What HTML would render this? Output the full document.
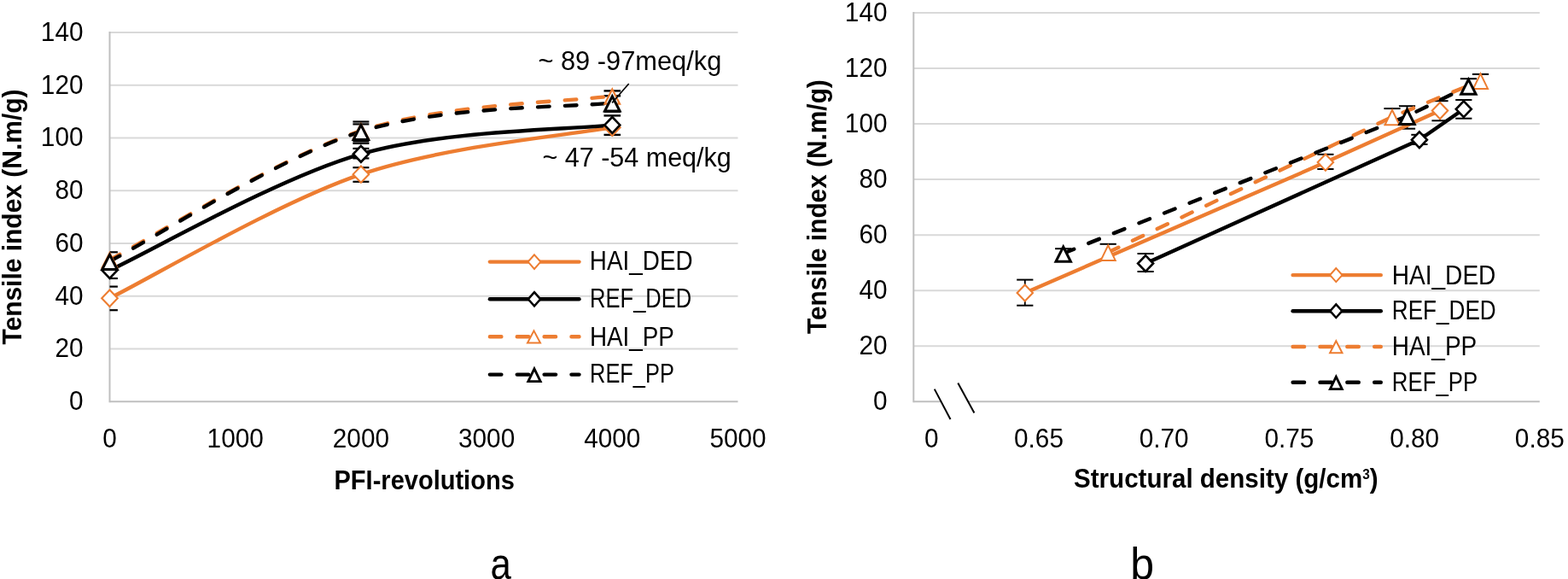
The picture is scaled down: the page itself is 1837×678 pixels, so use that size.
<!DOCTYPE html><html><head><meta charset="utf-8"><title>Tensile index charts</title><style>html,body{margin:0;padding:0;background:#fff;}svg{display:block;}text{font-family:'Liberation Sans', Arial, sans-serif;fill:#000;}</style></head><body>
<svg width="1837" height="678" viewBox="0 0 1837 678">
<rect width="1837" height="678" fill="#fff"/>
<line x1="128.5" y1="408.54" x2="864.5" y2="408.54" stroke="#D9D9D9" stroke-width="2"/>
<line x1="128.5" y1="346.79" x2="864.5" y2="346.79" stroke="#D9D9D9" stroke-width="2"/>
<line x1="128.5" y1="285.03" x2="864.5" y2="285.03" stroke="#D9D9D9" stroke-width="2"/>
<line x1="128.5" y1="223.27" x2="864.5" y2="223.27" stroke="#D9D9D9" stroke-width="2"/>
<line x1="128.5" y1="161.51" x2="864.5" y2="161.51" stroke="#D9D9D9" stroke-width="2"/>
<line x1="128.5" y1="99.76" x2="864.5" y2="99.76" stroke="#D9D9D9" stroke-width="2"/>
<line x1="128.5" y1="38.00" x2="864.5" y2="38.00" stroke="#D9D9D9" stroke-width="2"/>
<line x1="128.5" y1="470.3" x2="864.5" y2="470.3" stroke="#BFBFBF" stroke-width="2"/>
<line x1="128.5" y1="37.0" x2="128.5" y2="471.3" stroke="#BFBFBF" stroke-width="2"/>
<text transform="translate(97.5,480.2) scale(0.96,1)" text-anchor="end" font-size="31" font-weight="normal">0</text>
<text transform="translate(97.5,418.4) scale(0.96,1)" text-anchor="end" font-size="31" font-weight="normal">20</text>
<text transform="translate(97.5,356.7) scale(0.96,1)" text-anchor="end" font-size="31" font-weight="normal">40</text>
<text transform="translate(97.5,294.9) scale(0.96,1)" text-anchor="end" font-size="31" font-weight="normal">60</text>
<text transform="translate(97.5,233.2) scale(0.96,1)" text-anchor="end" font-size="31" font-weight="normal">80</text>
<text transform="translate(97.5,171.4) scale(0.96,1)" text-anchor="end" font-size="31" font-weight="normal">100</text>
<text transform="translate(97.5,109.7) scale(0.96,1)" text-anchor="end" font-size="31" font-weight="normal">120</text>
<text transform="translate(97.5,47.9) scale(0.96,1)" text-anchor="end" font-size="31" font-weight="normal">140</text>
<text transform="translate(128.5,523.9) scale(0.96,1)" text-anchor="middle" font-size="31" font-weight="normal">0</text>
<text transform="translate(275.7,523.9) scale(0.96,1)" text-anchor="middle" font-size="31" font-weight="normal">1000</text>
<text transform="translate(422.9,523.9) scale(0.96,1)" text-anchor="middle" font-size="31" font-weight="normal">2000</text>
<text transform="translate(570.1,523.9) scale(0.96,1)" text-anchor="middle" font-size="31" font-weight="normal">3000</text>
<text transform="translate(717.3,523.9) scale(0.96,1)" text-anchor="middle" font-size="31" font-weight="normal">4000</text>
<text transform="translate(864.5,523.9) scale(0.96,1)" text-anchor="middle" font-size="31" font-weight="normal">5000</text>
<text id="t_pfi" transform="translate(391.50,573.1) scale(0.9430,1)" font-size="30.8" font-weight="bold">PFI-revolutions</text>
<text id="t_ya" transform="translate(25,403.59) rotate(-90) scale(0.9732,1)" font-size="30.8" font-weight="bold">Tensile index (N.m/g)</text>
<line x1="128.50" y1="295.30" x2="137.90" y2="295.30" stroke="#000000" stroke-width="2.2"/>
<line x1="128.50" y1="326.00" x2="137.90" y2="326.00" stroke="#000000" stroke-width="2.2"/>
<line x1="128.50" y1="335.60" x2="137.90" y2="335.60" stroke="#000000" stroke-width="2.2"/>
<line x1="128.50" y1="363.20" x2="137.90" y2="363.20" stroke="#000000" stroke-width="2.2"/>
<line x1="413.40" y1="142.50" x2="432.40" y2="142.50" stroke="#000000" stroke-width="2.2"/>
<line x1="413.40" y1="145.40" x2="432.40" y2="145.40" stroke="#000000" stroke-width="2.2"/>
<line x1="413.40" y1="165.50" x2="432.40" y2="165.50" stroke="#000000" stroke-width="2.2"/>
<line x1="413.40" y1="167.90" x2="432.40" y2="167.90" stroke="#000000" stroke-width="2.2"/>
<line x1="413.40" y1="173.90" x2="432.40" y2="173.90" stroke="#000000" stroke-width="2.2"/>
<line x1="413.40" y1="185.40" x2="432.40" y2="185.40" stroke="#000000" stroke-width="2.2"/>
<line x1="413.40" y1="196.20" x2="432.40" y2="196.20" stroke="#000000" stroke-width="2.2"/>
<line x1="413.40" y1="212.80" x2="432.40" y2="212.80" stroke="#000000" stroke-width="2.2"/>
<line x1="707.50" y1="106.40" x2="727.10" y2="106.40" stroke="#000000" stroke-width="2.4"/>
<line x1="707.50" y1="112.30" x2="727.10" y2="112.30" stroke="#000000" stroke-width="2.4"/>
<line x1="707.50" y1="130.70" x2="727.10" y2="130.70" stroke="#000000" stroke-width="2.4"/>
<line x1="707.50" y1="135.40" x2="727.10" y2="135.40" stroke="#000000" stroke-width="2.4"/>
<line x1="707.50" y1="157.90" x2="727.10" y2="157.90" stroke="#000000" stroke-width="2.4"/>
<path d="M128.50,349.26 C177.57,325.07 324.77,237.48 422.90,204.13 C521.03,170.78 668.23,158.32 717.30,149.16" fill="none" stroke="#ED7D31" stroke-width="4.4" stroke-linecap="round"/>
<path d="M128.50,316.52 C177.57,293.83 324.77,208.71 422.90,180.35 C521.03,151.99 668.23,152.04 717.30,146.38" fill="none" stroke="#000000" stroke-width="4.4" stroke-linecap="round"/>
<path d="M128.50,304.17 C177.57,279.01 324.77,185.14 422.90,153.18 C521.03,121.22 668.23,119.21 717.30,112.42" fill="none" stroke="#ED7D31" stroke-width="4.4" stroke-dasharray="13.5 18.35" stroke-linecap="round"/>
<path d="M128.50,306.03 C177.57,280.71 324.77,185.03 422.90,154.10 C521.03,123.17 668.23,126.06 717.30,120.45" fill="none" stroke="#000000" stroke-width="4.4" stroke-dasharray="13.5 18.35" stroke-linecap="round"/>
<path d="M128.50,339.56 L137.80,349.26 L128.50,358.96 L119.20,349.26 Z" fill="#fff" stroke="#ED7D31" stroke-width="2.1" stroke-linejoin="miter"/>
<path d="M422.90,194.43 L432.20,204.13 L422.90,213.83 L413.60,204.13 Z" fill="#fff" stroke="#ED7D31" stroke-width="2.1" stroke-linejoin="miter"/>
<path d="M717.30,139.46 L726.60,149.16 L717.30,158.86 L708.00,149.16 Z" fill="#fff" stroke="#ED7D31" stroke-width="2.1" stroke-linejoin="miter"/>
<path d="M128.50,307.12 L137.50,316.52 L128.50,325.92 L119.50,316.52 Z" fill="#fff" stroke="#000000" stroke-width="2.6" stroke-linejoin="miter"/>
<path d="M422.90,170.95 L431.90,180.35 L422.90,189.75 L413.90,180.35 Z" fill="#fff" stroke="#000000" stroke-width="2.6" stroke-linejoin="miter"/>
<path d="M717.30,136.98 L726.30,146.38 L717.30,155.78 L708.30,146.38 Z" fill="#fff" stroke="#000000" stroke-width="2.6" stroke-linejoin="miter"/>
<path d="M128.50,296.27 L137.30,313.47 L119.70,313.47 Z" fill="#fff" stroke="#ED7D31" stroke-width="2.2" stroke-linejoin="miter"/>
<path d="M422.90,145.28 L431.70,162.48 L414.10,162.48 Z" fill="#fff" stroke="#ED7D31" stroke-width="2.2" stroke-linejoin="miter"/>
<path d="M717.30,104.52 L726.10,121.72 L708.50,121.72 Z" fill="#fff" stroke="#ED7D31" stroke-width="2.2" stroke-linejoin="miter"/>
<path d="M128.50,298.33 L137.30,315.53 L119.70,315.53 Z" fill="#fff" stroke="#000000" stroke-width="3.0" stroke-linejoin="miter"/>
<path d="M422.90,146.40 L431.70,163.60 L414.10,163.60 Z" fill="#fff" stroke="#000000" stroke-width="3.0" stroke-linejoin="miter"/>
<path d="M717.30,112.75 L726.10,129.95 L708.50,129.95 Z" fill="#fff" stroke="#000000" stroke-width="3.0" stroke-linejoin="miter"/>
<line x1="717.1" y1="120.4" x2="736.7" y2="98.0" stroke="#000000" stroke-width="1.6"/>
<text id="t_ann1" transform="translate(630.41,82.0) scale(0.9939,1)" font-size="31" font-weight="normal">~ 89 -97meq/kg</text>
<text id="t_ann2" transform="translate(635.41,194.7) scale(0.9851,1)" font-size="31" font-weight="normal">~ 47 -54 meq/kg</text>
<line x1="573.9" y1="306.6" x2="678.5" y2="306.6" stroke="#ED7D31" stroke-width="4.4" stroke-linecap="round"/>
<path d="M626.00,298.30 L633.40,306.60 L626.00,314.90 L618.60,306.60 Z" fill="#fff" stroke="#ED7D31" stroke-width="2.0" stroke-linejoin="miter"/>
<line x1="573.9" y1="350.3" x2="678.5" y2="350.3" stroke="#000000" stroke-width="4.4" stroke-linecap="round"/>
<path d="M626.00,342.20 L633.20,350.30 L626.00,358.40 L618.80,350.30 Z" fill="#fff" stroke="#000000" stroke-width="2.5" stroke-linejoin="miter"/>
<line x1="573.9" y1="394.3" x2="678.5" y2="394.3" stroke="#ED7D31" stroke-width="4.4" stroke-dasharray="13.5 18.35" stroke-linecap="round"/>
<path d="M625.50,387.40 L633.00,401.60 L618.00,401.60 Z" fill="#fff" stroke="#ED7D31" stroke-width="2.0" stroke-linejoin="miter"/>
<line x1="573.9" y1="438.6" x2="678.5" y2="438.6" stroke="#000000" stroke-width="4.4" stroke-dasharray="13.5 18.35" stroke-linecap="round"/>
<path d="M626.00,431.80 L633.20,446.60 L618.80,446.60 Z" fill="#fff" stroke="#000000" stroke-width="2.8" stroke-linejoin="miter"/>
<text id="t_la0" transform="translate(690.87,316.3) scale(0.8992,1)" font-size="31" font-weight="normal">HAI_DED</text>
<text id="t_la1" transform="translate(691.07,360.2) scale(0.8241,1)" font-size="31" font-weight="normal">REF_DED</text>
<text id="t_la2" transform="translate(690.88,404.5) scale(0.8981,1)" font-size="31" font-weight="normal">HAI_PP</text>
<text id="t_la3" transform="translate(691.09,448.1) scale(0.8188,1)" font-size="31" font-weight="normal">REF_PP</text>
<line x1="1070.3" y1="405.24" x2="1803.8" y2="405.24" stroke="#D9D9D9" stroke-width="2"/>
<line x1="1070.3" y1="340.19" x2="1803.8" y2="340.19" stroke="#D9D9D9" stroke-width="2"/>
<line x1="1070.3" y1="275.13" x2="1803.8" y2="275.13" stroke="#D9D9D9" stroke-width="2"/>
<line x1="1070.3" y1="210.07" x2="1803.8" y2="210.07" stroke="#D9D9D9" stroke-width="2"/>
<line x1="1070.3" y1="145.01" x2="1803.8" y2="145.01" stroke="#D9D9D9" stroke-width="2"/>
<line x1="1070.3" y1="79.96" x2="1803.8" y2="79.96" stroke="#D9D9D9" stroke-width="2"/>
<line x1="1070.3" y1="14.90" x2="1803.8" y2="14.90" stroke="#D9D9D9" stroke-width="2"/>
<line x1="1070.3" y1="470.3" x2="1803.8" y2="470.3" stroke="#BFBFBF" stroke-width="2"/>
<line x1="1070.3" y1="13.9" x2="1070.3" y2="471.3" stroke="#BFBFBF" stroke-width="2"/>
<text transform="translate(1039.5,480.2) scale(0.96,1)" text-anchor="end" font-size="31" font-weight="normal">0</text>
<text transform="translate(1039.5,415.1) scale(0.96,1)" text-anchor="end" font-size="31" font-weight="normal">20</text>
<text transform="translate(1039.5,350.1) scale(0.96,1)" text-anchor="end" font-size="31" font-weight="normal">40</text>
<text transform="translate(1039.5,285.0) scale(0.96,1)" text-anchor="end" font-size="31" font-weight="normal">60</text>
<text transform="translate(1039.5,220.0) scale(0.96,1)" text-anchor="end" font-size="31" font-weight="normal">80</text>
<text transform="translate(1039.5,154.9) scale(0.96,1)" text-anchor="end" font-size="31" font-weight="normal">100</text>
<text transform="translate(1039.5,89.9) scale(0.96,1)" text-anchor="end" font-size="31" font-weight="normal">120</text>
<text transform="translate(1039.5,24.8) scale(0.96,1)" text-anchor="end" font-size="31" font-weight="normal">140</text>
<text transform="translate(1091.3,523.9) scale(0.96,1)" text-anchor="middle" font-size="31" font-weight="normal">0</text>
<text transform="translate(1217.0,523.9) scale(0.96,1)" text-anchor="middle" font-size="31" font-weight="normal">0.65</text>
<text transform="translate(1363.7,523.9) scale(0.96,1)" text-anchor="middle" font-size="31" font-weight="normal">0.70</text>
<text transform="translate(1510.4,523.9) scale(0.96,1)" text-anchor="middle" font-size="31" font-weight="normal">0.75</text>
<text transform="translate(1657.1,523.9) scale(0.96,1)" text-anchor="middle" font-size="31" font-weight="normal">0.80</text>
<text transform="translate(1803.8,523.9) scale(0.96,1)" text-anchor="middle" font-size="31" font-weight="normal">0.85</text>
<text id="t_sd" transform="translate(1258.04,570.9) scale(0.9599,1)" font-size="30.8" font-weight="bold">Structural density (g/cm<tspan font-size="16" dy="-10">3</tspan><tspan dy="10">)</tspan></text>
<text id="t_yb" transform="translate(967.7,391.00) rotate(-90) scale(0.9690,1)" font-size="30.8" font-weight="bold">Tensile index (N.m/g)</text>
<path d="M1094.8,455.6 L1122.3,448.4 L1141.4,483.5 L1113.5,491 Z" fill="#fff"/>
<line x1="1094.8" y1="455.6" x2="1113.5" y2="491" stroke="#000000" stroke-width="2"/>
<line x1="1122.3" y1="448.4" x2="1141.4" y2="483.5" stroke="#000000" stroke-width="2"/>
<line x1="1200.80" y1="327.60" x2="1200.80" y2="357.70" stroke="#000000" stroke-width="1.8"/>
<line x1="1191.20" y1="327.60" x2="1210.40" y2="327.60" stroke="#000000" stroke-width="2.0"/>
<line x1="1191.20" y1="357.70" x2="1210.40" y2="357.70" stroke="#000000" stroke-width="2.0"/>
<line x1="1245.70" y1="291.20" x2="1245.70" y2="303.20" stroke="#000000" stroke-width="1.8"/>
<line x1="1236.10" y1="291.20" x2="1255.30" y2="291.20" stroke="#000000" stroke-width="2.0"/>
<line x1="1298.20" y1="285.80" x2="1298.20" y2="297.80" stroke="#000000" stroke-width="1.8"/>
<line x1="1288.60" y1="285.80" x2="1307.80" y2="285.80" stroke="#000000" stroke-width="2.0"/>
<line x1="1342.10" y1="297.00" x2="1342.10" y2="318.00" stroke="#000000" stroke-width="1.8"/>
<line x1="1332.50" y1="297.00" x2="1351.70" y2="297.00" stroke="#000000" stroke-width="2.0"/>
<line x1="1332.50" y1="318.00" x2="1351.70" y2="318.00" stroke="#000000" stroke-width="2.0"/>
<line x1="1552.90" y1="180.80" x2="1552.90" y2="198.00" stroke="#000000" stroke-width="1.8"/>
<line x1="1543.30" y1="180.80" x2="1562.50" y2="180.80" stroke="#000000" stroke-width="2.0"/>
<line x1="1543.30" y1="198.00" x2="1562.50" y2="198.00" stroke="#000000" stroke-width="2.0"/>
<line x1="1687.00" y1="118.20" x2="1687.00" y2="141.30" stroke="#000000" stroke-width="1.8"/>
<line x1="1677.40" y1="118.20" x2="1696.60" y2="118.20" stroke="#000000" stroke-width="2.0"/>
<line x1="1677.40" y1="141.30" x2="1696.60" y2="141.30" stroke="#000000" stroke-width="2.0"/>
<line x1="1662.90" y1="157.80" x2="1662.90" y2="169.00" stroke="#000000" stroke-width="1.8"/>
<line x1="1653.30" y1="157.80" x2="1672.50" y2="157.80" stroke="#000000" stroke-width="2.0"/>
<line x1="1653.30" y1="169.00" x2="1672.50" y2="169.00" stroke="#000000" stroke-width="2.0"/>
<line x1="1714.80" y1="117.00" x2="1714.80" y2="138.70" stroke="#000000" stroke-width="1.8"/>
<line x1="1705.20" y1="117.00" x2="1724.40" y2="117.00" stroke="#000000" stroke-width="2.0"/>
<line x1="1705.20" y1="138.70" x2="1724.40" y2="138.70" stroke="#000000" stroke-width="2.0"/>
<line x1="1631.00" y1="127.10" x2="1631.00" y2="139.10" stroke="#000000" stroke-width="1.8"/>
<line x1="1621.40" y1="127.10" x2="1640.60" y2="127.10" stroke="#000000" stroke-width="2.0"/>
<line x1="1648.50" y1="124.20" x2="1648.50" y2="150.70" stroke="#000000" stroke-width="1.8"/>
<line x1="1638.90" y1="124.20" x2="1658.10" y2="124.20" stroke="#000000" stroke-width="2.0"/>
<line x1="1638.90" y1="150.70" x2="1658.10" y2="150.70" stroke="#000000" stroke-width="2.0"/>
<line x1="1734.50" y1="86.90" x2="1734.50" y2="98.90" stroke="#000000" stroke-width="1.8"/>
<line x1="1724.90" y1="86.90" x2="1744.10" y2="86.90" stroke="#000000" stroke-width="2.0"/>
<line x1="1720.40" y1="92.20" x2="1720.40" y2="104.20" stroke="#000000" stroke-width="1.8"/>
<line x1="1710.80" y1="92.20" x2="1730.00" y2="92.20" stroke="#000000" stroke-width="2.0"/>
<path d="M1200.80,343.00 L1552.90,190.10 L1687.00,129.60" fill="none" stroke="#ED7D31" stroke-width="4.4" stroke-linecap="round" stroke-linejoin="round"/>
<path d="M1342.10,308.50 L1662.90,163.70 L1714.80,127.80" fill="none" stroke="#000000" stroke-width="4.4" stroke-linecap="round" stroke-linejoin="round"/>
<path d="M1298.20,295.50 L1631.00,136.90 L1734.50,94.50" fill="none" stroke="#ED7D31" stroke-width="4.4" stroke-dasharray="13.5 18.35" stroke-linecap="round"/>
<path d="M1245.70,296.70 L1648.50,136.00 L1720.40,100.80" fill="none" stroke="#000000" stroke-width="4.4" stroke-dasharray="13.5 18.35" stroke-linecap="round"/>
<path d="M1200.80,333.40 L1210.00,343.00 L1200.80,352.60 L1191.60,343.00 Z" fill="#fff" stroke="#ED7D31" stroke-width="2.1" stroke-linejoin="miter"/>
<path d="M1552.90,180.50 L1562.10,190.10 L1552.90,199.70 L1543.70,190.10 Z" fill="#fff" stroke="#ED7D31" stroke-width="2.1" stroke-linejoin="miter"/>
<path d="M1687.00,120.00 L1696.20,129.60 L1687.00,139.20 L1677.80,129.60 Z" fill="#fff" stroke="#ED7D31" stroke-width="2.1" stroke-linejoin="miter"/>
<path d="M1342.10,299.10 L1351.10,308.50 L1342.10,317.90 L1333.10,308.50 Z" fill="#fff" stroke="#000000" stroke-width="2.6" stroke-linejoin="miter"/>
<path d="M1662.90,154.30 L1671.90,163.70 L1662.90,173.10 L1653.90,163.70 Z" fill="#fff" stroke="#000000" stroke-width="2.6" stroke-linejoin="miter"/>
<path d="M1714.80,118.40 L1723.80,127.80 L1714.80,137.20 L1705.80,127.80 Z" fill="#fff" stroke="#000000" stroke-width="2.6" stroke-linejoin="miter"/>
<path d="M1298.20,287.30 L1306.70,304.90 L1289.70,304.90 Z" fill="#fff" stroke="#ED7D31" stroke-width="2.0" stroke-linejoin="miter"/>
<path d="M1631.00,128.70 L1639.50,146.30 L1622.50,146.30 Z" fill="#fff" stroke="#ED7D31" stroke-width="2.0" stroke-linejoin="miter"/>
<path d="M1734.50,86.30 L1743.00,103.90 L1726.00,103.90 Z" fill="#fff" stroke="#ED7D31" stroke-width="2.0" stroke-linejoin="miter"/>
<path d="M1245.70,289.00 L1254.40,306.20 L1237.00,306.20 Z" fill="#fff" stroke="#000000" stroke-width="3.0" stroke-linejoin="miter"/>
<path d="M1648.50,128.30 L1657.20,145.50 L1639.80,145.50 Z" fill="#fff" stroke="#000000" stroke-width="3.0" stroke-linejoin="miter"/>
<path d="M1720.40,93.10 L1729.10,110.30 L1711.70,110.30 Z" fill="#fff" stroke="#000000" stroke-width="3.0" stroke-linejoin="miter"/>
<line x1="1514.6" y1="322.1" x2="1617.8" y2="322.1" stroke="#ED7D31" stroke-width="4.4" stroke-linecap="round"/>
<path d="M1565.30,314.10 L1572.50,322.10 L1565.30,330.10 L1558.10,322.10 Z" fill="#fff" stroke="#ED7D31" stroke-width="2.0" stroke-linejoin="miter"/>
<line x1="1514.6" y1="364.2" x2="1617.8" y2="364.2" stroke="#000000" stroke-width="4.4" stroke-linecap="round"/>
<path d="M1565.30,356.40 L1572.30,364.20 L1565.30,372.00 L1558.30,364.20 Z" fill="#fff" stroke="#000000" stroke-width="2.5" stroke-linejoin="miter"/>
<line x1="1514.6" y1="406.0" x2="1617.8" y2="406.0" stroke="#ED7D31" stroke-width="4.4" stroke-dasharray="13.5 18.35" stroke-linecap="round"/>
<path d="M1565.30,399.30 L1572.50,413.30 L1558.10,413.30 Z" fill="#fff" stroke="#ED7D31" stroke-width="2.0" stroke-linejoin="miter"/>
<line x1="1514.6" y1="447.8" x2="1617.8" y2="447.8" stroke="#000000" stroke-width="4.4" stroke-dasharray="13.5 18.35" stroke-linecap="round"/>
<path d="M1565.30,441.20 L1572.30,455.60 L1558.30,455.60 Z" fill="#fff" stroke="#000000" stroke-width="2.8" stroke-linejoin="miter"/>
<text id="t_lb0" transform="translate(1630.66,332.7) scale(0.9062,1)" font-size="31" font-weight="normal">HAI_DED</text>
<text id="t_lb1" transform="translate(1630.84,374.1) scale(0.8426,1)" font-size="31" font-weight="normal">REF_DED</text>
<text id="t_lb2" transform="translate(1630.67,415.7) scale(0.9038,1)" font-size="31" font-weight="normal">HAI_PP</text>
<text id="t_lb3" transform="translate(1630.87,457.6) scale(0.8310,1)" font-size="31" font-weight="normal">REF_PP</text>
<text id="t_a" transform="translate(574.42,677.5) scale(0.8429,1)" font-size="52" font-weight="normal">a</text>
<text id="t_b" transform="translate(1324.31,677.5) scale(0.9625,1)" font-size="52" font-weight="normal">b</text>
</svg></body></html>
